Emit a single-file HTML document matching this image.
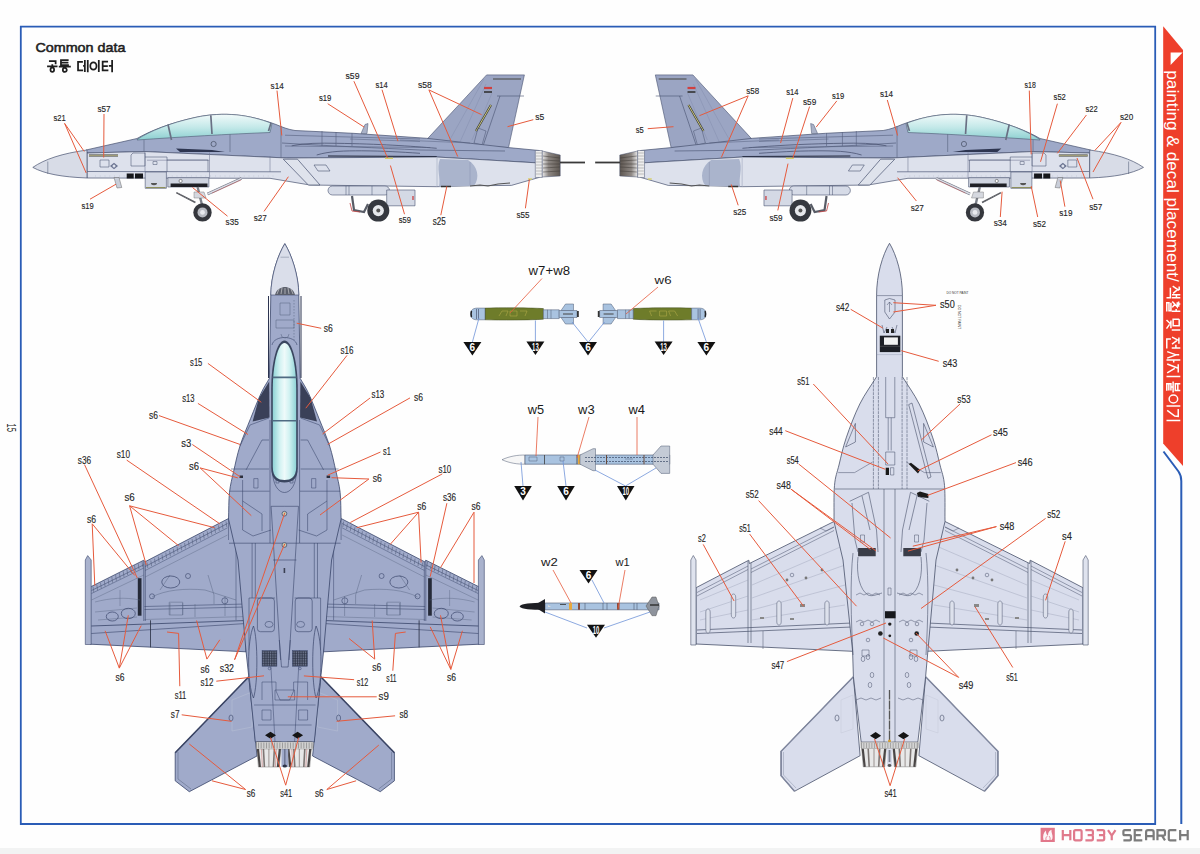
<!DOCTYPE html><html><head><meta charset="utf-8"><style>
html,body{margin:0;padding:0;background:#fff;width:1200px;height:854px;overflow:hidden}
svg{display:block;font-family:"Liberation Sans",sans-serif}
</style></head><body>
<svg width="1200" height="854" viewBox="0 0 1200 854">
<rect width="1200" height="854" fill="#fefefe"/>
<rect y="848" width="1200" height="6" fill="#f2f3f3"/>

<rect x="20.8" y="26.6" width="1134.4" height="197.4" fill="none"/>
<path d="M20.8,26.6 H1155.2 V824 H20.8 Z" fill="none" stroke="#2a5cb6" stroke-width="1.8"/>
<polygon points="1163.2,26.3 1183,50 1183,466 1163.2,443.5" fill="#ee3f2b"/>
<polygon points="1170.6,52.6 1182.6,52.6 1170.6,65" fill="#fff"/>
<path d="M1163.5,451.5 L1178.5,471.5 Q1181.3,475.5 1181.3,481 V824" fill="none" stroke="#2a5cb6" stroke-width="2"/>
<text transform="translate(1167.3,70.3) rotate(90)" font-size="17" fill="#fff" textLength="211.5" lengthAdjust="spacingAndGlyphs">painting &amp; decal placement/</text>
<text x="35.4" y="52.3" font-size="13.4" fill="#1e1e1e" stroke="#1e1e1e" stroke-width="0.55" textLength="90" lengthAdjust="spacingAndGlyphs">Common data</text>
<path d="M1.8,0.9 L8.2,0.9 L8.2,3.6 M5,3.6 L5,5.3 M0,5.3 L10,5.3 M3.25,8.2 A1.75,1.75 0 1 0 6.75,8.2 A1.75,1.75 0 1 0 3.25,8.2" transform="translate(47.1,60.1) scale(1.0399999999999998,1.1800000000000002)" fill="none" stroke="#1e1e1e" stroke-width="1.75" vector-effect="non-scaling-stroke" stroke-linecap="butt"/>
<path d="M8.2,0.1 L1.8,0.1 L1.8,4.3 L8.4,4.3 M1.8,2.2 L8,2.2 M5,4.3 L5,5.5 M0,5.5 L10,5.5 M3.35,8.3 A1.65,1.65 0 1 0 6.65,8.3 A1.65,1.65 0 1 0 3.35,8.3" transform="translate(58.8,60.1) scale(1.2,1.1800000000000002)" fill="none" stroke="#1e1e1e" stroke-width="1.75" vector-effect="non-scaling-stroke" stroke-linecap="butt"/>
<path d="M5,1.5 L0.5,1.5 L0.5,8.8 L5.2,8.8 M6.8,0 L6.8,10 M9.5,0 L9.5,10.3 M5.2,4.8 L6.8,4.8" transform="translate(77.5,60.1) scale(1.0799999999999996,1.1800000000000002)" fill="none" stroke="#1e1e1e" stroke-width="1.75" vector-effect="non-scaling-stroke" stroke-linecap="butt"/>
<path d="M0.2999999999999998,5 A3.1,3.1 0 1 0 6.5,5 A3.1,3.1 0 1 0 0.2999999999999998,5 M8.8,0 L8.8,10" transform="translate(90,60.1) scale(1.0,1.1800000000000002)" fill="none" stroke="#1e1e1e" stroke-width="1.75" vector-effect="non-scaling-stroke" stroke-linecap="butt"/>
<path d="M5.5,1.2 L0.6,1.2 L0.6,8.8 L5.8,8.8 M0.6,5 L5.3,5 M9.2,0 L9.2,10.3 M6.2,4.8 L9.2,4.8" transform="translate(102,60.1) scale(1.1,1.1800000000000002)" fill="none" stroke="#1e1e1e" stroke-width="1.75" vector-effect="non-scaling-stroke" stroke-linecap="butt"/>
<path d="M0.5,0.8 L3,0.8 M3,0.8 L3,1.5 L0.3,5.5 M3,2.2 L5.5,5.2 M6.5,0 L6.5,6 M8.8,0 L8.8,6.2 M6.5,2.8 L8.8,2.8 M1.5,7.2 L8.8,7.2 L8.8,10" transform="translate(1180.3,285.8) rotate(90) scale(1.3699999999999988,1.3800000000000001)" fill="none" stroke="#fff" stroke-width="1.5" vector-effect="non-scaling-stroke" stroke-linecap="butt"/>
<path d="M2.5,0 L2.5,1 M0.5,1.2 L5,1.2 M1,2.2 L5,2.2 L0.5,5.8 M2.8,4 L5.5,5.8 M8.8,0 L8.8,6.2 M6.8,3 L8.8,3 M1.5,6.8 L8.5,6.8 L8.5,8.2 L1.5,8.2 L1.5,9.8 L9,9.8" transform="translate(1180.3,301) rotate(90) scale(1.1600000000000024,1.3800000000000001)" fill="none" stroke="#fff" stroke-width="1.5" vector-effect="non-scaling-stroke" stroke-linecap="butt"/>
<path d="M0.6,0.8 L5.5,0.8 L5.5,5.2 L0.6,5.2 L0.6,0.8 M8.8,0 L8.8,6.2 M1.5,6.8 L7.5,6.8 M4.5,6.8 L1.2,10 M4.5,7.8 L7.8,10" transform="translate(1180.3,318.4) rotate(90) scale(1.3200000000000045,1.3800000000000001)" fill="none" stroke="#fff" stroke-width="1.5" vector-effect="non-scaling-stroke" stroke-linecap="butt"/>
<path d="M0.5,1 L5.5,1 M3,1 L0.3,6 M3,2.5 L5.8,6 M8.8,0 L8.8,6.2 M6.2,3.2 L8.8,3.2 M1.8,6.8 L1.8,9.8 L9.2,9.8" transform="translate(1180.3,336.8) rotate(90) scale(1.269999999999999,1.3800000000000001)" fill="none" stroke="#fff" stroke-width="1.5" vector-effect="non-scaling-stroke" stroke-linecap="butt"/>
<path d="M3,0.8 L3,3 L0,9.5 M3,3 L6,9.5 M7.8,0 L7.8,10 M7.8,4.8 L10,4.8" transform="translate(1180.3,351.6) rotate(90) scale(1.0899999999999976,1.3800000000000001)" fill="none" stroke="#fff" stroke-width="1.5" vector-effect="non-scaling-stroke" stroke-linecap="butt"/>
<path d="M0.5,1.5 L6,1.5 M3.2,1.5 L0.3,9.5 M3.2,4 L6.3,9.5 M8.8,0 L8.8,10" transform="translate(1180.3,363.5) rotate(90) scale(1.4899999999999978,1.3800000000000001)" fill="none" stroke="#fff" stroke-width="1.5" vector-effect="non-scaling-stroke" stroke-linecap="butt"/>
<path d="M2,0 L2,3.6 L8,3.6 L8,0 M2,1.8 L8,1.8 M0,5.2 L10,5.2 M5,5.2 L5,6.3 M8.2,6.8 L2,6.8 L2,9.8 L8.4,9.8 M2,8.3 L8,8.3" transform="translate(1180.3,381.6) rotate(90) scale(1.1,1.3800000000000001)" fill="none" stroke="#fff" stroke-width="1.5" vector-effect="non-scaling-stroke" stroke-linecap="butt"/>
<path d="M0.2999999999999998,5 A3.1,3.1 0 1 0 6.5,5 A3.1,3.1 0 1 0 0.2999999999999998,5 M8.8,0 L8.8,10" transform="translate(1180.3,394.7) rotate(90) scale(1.269999999999999,1.3800000000000001)" fill="none" stroke="#fff" stroke-width="1.5" vector-effect="non-scaling-stroke" stroke-linecap="butt"/>
<path d="M0.5,1.5 L5.8,1.5 L5.6,4 L1.5,9.5 M8.8,0 L8.8,10" transform="translate(1180.3,408.4) rotate(90) scale(1.3700000000000045,1.3800000000000001)" fill="none" stroke="#fff" stroke-width="1.5" vector-effect="non-scaling-stroke" stroke-linecap="butt"/>
<text transform="translate(7.2,423.5) rotate(90)" font-size="12" fill="#2a2a2a" textLength="8.4" lengthAdjust="spacingAndGlyphs">15</text>
<rect x="1040.6" y="827.8" width="14.2" height="14.2" fill="#e2788b"/>
<path d="M1043.5,840 C1042.5,836 1043.5,832.5 1046,830.5 C1045.8,833.5 1047,835 1048,835.5 C1047.8,832.5 1049.5,830.5 1051.5,829.8 C1051,832.5 1053,835 1052.5,838 C1052.2,839.5 1051.5,840 1051,840 Z" fill="#fff" opacity="0.92"/>
<path d="M1046,840 C1045.5,838 1046.5,836.5 1047.5,836 M1050,840 C1050.5,838 1049.5,836.5 1049,836" stroke="#e2788b" stroke-width="0.9" fill="none"/>
<path d="M0,0 V12 M10,0 V12 M0,6 H10" transform="translate(1062.80,830.1) scale(0.750,0.850)" fill="none" stroke="#e07a8c" stroke-width="2.2" vector-effect="non-scaling-stroke"/>
<path d="M1.8,0 H8.2 Q10,0 10,1.8 V10.2 Q10,12 8.2,12 H1.8 Q0,12 0,10.2 V1.8 Q0,0 1.8,0 Z" transform="translate(1074.10,830.1) scale(0.750,0.850)" fill="none" stroke="#e07a8c" stroke-width="2.2" vector-effect="non-scaling-stroke"/>
<path d="M0,0 H8.2 Q10,0 10,1.8 V4.2 Q10,6 8.2,6 H3 M8.2,6 Q10,6 10,7.8 V10.2 Q10,12 8.2,12 H0" transform="translate(1085.40,830.1) scale(0.750,0.850)" fill="none" stroke="#e07a8c" stroke-width="2.2" vector-effect="non-scaling-stroke"/>
<path d="M0,0 H8.2 Q10,0 10,1.8 V4.2 Q10,6 8.2,6 H3 M8.2,6 Q10,6 10,7.8 V10.2 Q10,12 8.2,12 H0" transform="translate(1096.70,830.1) scale(0.750,0.850)" fill="none" stroke="#e07a8c" stroke-width="2.2" vector-effect="non-scaling-stroke"/>
<path d="M0,0 L5,6.5 L10,0 M5,6.5 V12" transform="translate(1108.00,830.1) scale(0.750,0.850)" fill="none" stroke="#e07a8c" stroke-width="2.2" vector-effect="non-scaling-stroke"/>
<path d="M10,0 H1.8 Q0,0 0,1.8 V4.2 Q0,6 1.8,6 H8.2 Q10,6 10,7.8 V10.2 Q10,12 8.2,12 H0" transform="translate(1123.40,830.1) scale(0.755,0.850)" fill="none" stroke="#7c7c7c" stroke-width="2.2" vector-effect="non-scaling-stroke"/>
<path d="M10,0 H0 V12 H10 M0,6 H8" transform="translate(1134.75,830.1) scale(0.755,0.850)" fill="none" stroke="#7c7c7c" stroke-width="2.2" vector-effect="non-scaling-stroke"/>
<path d="M0,12 V2.5 Q0,0 2.5,0 H7.5 Q10,0 10,2.5 V12 M0,7 H10" transform="translate(1146.10,830.1) scale(0.755,0.850)" fill="none" stroke="#7c7c7c" stroke-width="2.2" vector-effect="non-scaling-stroke"/>
<path d="M0,12 V0 H8.2 Q10,0 10,1.8 V4.7 Q10,6.5 8.2,6.5 H0 M6,6.5 L10,12" transform="translate(1157.45,830.1) scale(0.755,0.850)" fill="none" stroke="#7c7c7c" stroke-width="2.2" vector-effect="non-scaling-stroke"/>
<path d="M10,0 H1.8 Q0,0 0,1.8 V10.2 Q0,12 1.8,12 H10" transform="translate(1168.80,830.1) scale(0.755,0.850)" fill="none" stroke="#7c7c7c" stroke-width="2.2" vector-effect="non-scaling-stroke"/>
<path d="M0,0 V12 M10,0 V12 M0,6 H10" transform="translate(1180.15,830.1) scale(0.755,0.850)" fill="none" stroke="#7c7c7c" stroke-width="2.2" vector-effect="non-scaling-stroke"/>
<defs><linearGradient id="cnp" x1="0" y1="0" x2="0" y2="1"><stop offset="0" stop-color="#f2fafa"/><stop offset="0.5" stop-color="#c4e9e9"/><stop offset="1" stop-color="#8ccfd0"/></linearGradient><linearGradient id="noz" x1="0" y1="0" x2="1" y2="0"><stop offset="0" stop-color="#e9e9ea"/><stop offset="0.35" stop-color="#8e8884"/><stop offset="1" stop-color="#5d5650"/></linearGradient></defs>
<g id="side">
<polygon points="423.9,142.6 486.6,74.9 524.4,74.9 508.5,147.6" fill="#9ba5c3" stroke="#46506e" stroke-width="0.6" />
<path d="M500,96 L483,146 M497,96 L524,96" fill="none" stroke="#46506e" stroke-width="0.6" />
<path d="M472,140 L492,93 M460,142 L486,84 M448,143 L484,79" fill="none" stroke="#7e89a8" stroke-width="0.4" />
<path d="M476,131 L491,105" fill="none" stroke="#3c3c30" stroke-width="2.2" />
<path d="M476,131 L491,105" fill="none" stroke="#d9d68a" stroke-width="0.9" />
<path d="M484,88 h8" fill="none" stroke="#d04040" stroke-width="2.2" />
<path d="M484,92 h8" fill="none" stroke="#333" stroke-width="1.6" />
<path d="M493,79 h28" fill="none" stroke="#555" stroke-width="1.2" />
<path d="M478,128 l8,3 l-4,14 l-8,-2 z" fill="none" stroke="#46506e" stroke-width="0.5" />
<path d="M86,150 L137,138.5 C150,131 170,123 195,117.5 C225,111 250,115 276,124.5 C282,127 288,129.5 295,130.5 L353,133.3 L426.7,138.3 L508.5,147.6 L539.3,150.5 L539.3,163 L436.7,157 L286.7,158 L144,151.5 L87,153 Z" fill="#9ea9c8" stroke="#46506e" stroke-width="0.7" />
<path d="M176,148.6 L212,150 L225,152 L180,152 Z" fill="#2d3550" stroke="none" stroke-width="1" />
<path d="M282,143 C330,146 380,148 420,150 L505,151" fill="none" stroke="#46506e" stroke-width="0.6" />
<path d="M291.7,145.8 C305,143 320,143 336.7,143.3 C380,144 410,146 436.7,148.3 M316.7,155 C330,151 345,150.8 361.7,150.8 C385,151 400,152 420,153.3" fill="none" stroke="#3f4866" stroke-width="0.7" />
<path d="M328,156 L436.7,156.5" fill="none" stroke="#1f2435" stroke-width="1.0" />
<path d="M400,140 L470,143 M350,139 L420,141.5" fill="none" stroke="#56607e" stroke-width="0.5" />
<path d="M285,135.2 L420,139 M322,131 V146 M336,132 V146 M352,133 V146 M285,146 L430,147.5" fill="none" stroke="#56607e" stroke-width="0.6" />
<path d="M144,140 L144,151 M230,124 L230,152 M281,126 L281,158" fill="none" stroke="#46506e" stroke-width="0.5" />
<path d="M87,153 L144,151.5 L286.7,158 L436.7,157 L539.3,163 L539.3,177.4 L511.4,185.4 L470,185.8 L436.7,186.7 L310,185 L270,178.3 L87,178 Z" fill="#dde1ec" stroke="#46506e" stroke-width="0.7" />
<path d="M440,159 C436,168 441,178 439,186.5 L474,185.8 C480,178 478,166 468,160 Z" fill="#aab4cc" stroke="none" stroke-width="1" />
<path d="M437,158 L437,186.5 M470,162 L470,185" fill="none" stroke="#7d88a6" stroke-width="0.4" />
<path d="M87,171.5 L281,171.8" fill="none" stroke="#6f7893" stroke-width="0.9" />
<path d="M147,160.2 H209.5 M209.5,152.5 V178 M145,152 V172 M270,156 V172" fill="none" stroke="#6f7893" stroke-width="0.55" />
<path d="M95,176 h180" fill="none" stroke="#9aa2b8" stroke-width="0.4" stroke-dasharray="0.8,4"/>
<path d="M133,153 h12 v13 h-14 v-11 z M100,160 h9 v7 h-9 z M145,157 h22 v15 M167,160 h41 v12" fill="none" stroke="#46506e" stroke-width="0.55" />
<path d="M153,161.5 h4 v3 h-4 z" fill="none" stroke="#46506e" stroke-width="0.5" />
<path d="M110,166 l4,-3.2 l4,3.2 l-4,3.2 z" fill="#6a7390" stroke="none" stroke-width="1" />
<circle cx="114" cy="166" r="1.5" fill="#dde1ec"/>
<path d="M89,155.5 h29" fill="none" stroke="#3a3a30" stroke-width="2" />
<path d="M89,155.5 h29" fill="none" stroke="#b7b48a" stroke-width="0.8" />
<polygon points="283.3,159.2 297.5,159.2 320.0,185.0 308.3,185.0" fill="#dfe3ec" stroke="#46506e" stroke-width="0.7" />
<path d="M314,165 l12,0 l4,6 l-12,0 z" fill="none" stroke="#46506e" stroke-width="0.6" />
<path d="M32.8,167.4 C45,159 62,153.5 87,150 L87,178 C62,177 45,174 32.8,167.4 Z" fill="#d8dce7" stroke="#46506e" stroke-width="0.7" />
<path d="M47.8,161.5 L47.8,174" fill="none" stroke="#46506e" stroke-width="0.5" />
<path d="M137,139.5 C150,131 170,123 195,117.5 C225,111 250,115 272,123.5 L270,132.5 C230,134 180,137 137,140 Z" fill="url(#cnp)" stroke="#4c5a72" stroke-width="0.6" />
<path d="M168,124.5 L171.5,140 M210.8,115.2 L212,134 M271,123 L268.5,131" fill="none" stroke="#6a7084" stroke-width="1.7" />
<circle cx="213.6" cy="144" r="2.6" fill="none" stroke="#444c60" stroke-width="0.7"/>
<path d="M145.2,172 h21.2 v16.3 h-21.2 z" fill="#d3d8e4" stroke="#46506e" stroke-width="0.6" />
<path d="M146,187.6 h19.6" fill="none" stroke="#8a8a50" stroke-width="1" />
<path d="M151,183 a3,2.2 0 0 0 6,0" fill="#555" stroke="none" stroke-width="1" />
<path d="M167.8,177.7 h41.1 v9.3 h-41.1 z" fill="#cfd4e0" stroke="#46506e" stroke-width="0.6" />
<path d="M170.6,183.4 h36.9 v3.6 h-36.9 z" fill="#1f2026" stroke="none" stroke-width="1" />
<circle cx="180.6" cy="181" r="1.6" fill="#fff" stroke="#333" stroke-width="0.5"/>
<path d="M126.7,173.5 h7 v4.9 h-7 z M135,173.5 h8 v4.9 h-8 z" fill="#16171b" stroke="none" stroke-width="1" />
<path d="M114,177.5 L117,188 L121.8,187.5 L119,177.5 Z" fill="#c9ced9" stroke="#666" stroke-width="0.5" />
<path d="M176.3,192.6 L195.4,202.5" fill="none" stroke="#4f5158" stroke-width="1.6" />
<path d="M176.3,192.6 L195.4,202.5" fill="none" stroke="#aaa" stroke-width="0.5" stroke-dasharray="1,1"/>
<path d="M197.6,187 L202.5,207" fill="none" stroke="#7c8089" stroke-width="2.4" />
<path d="M194,192 h10 l2,6 h-12 z" fill="#d5d8df" stroke="#666" stroke-width="0.4" />
<path d="M207.5,194 L241.5,178.4" fill="none" stroke="#6d7180" stroke-width="2.6" />
<path d="M207.5,194 L241.5,178.4" fill="none" stroke="#d8dbe3" stroke-width="1.5" />
<path d="M212,193.2 L241,180" fill="none" stroke="#c05050" stroke-width="0.5" />
<circle cx="202.5" cy="212.4" r="9.2" fill="#35373d"/><circle cx="202.5" cy="212.4" r="5" fill="#b9bcc3"/><circle cx="202.5" cy="212.4" r="2.4" fill="#e9eaee"/>
<path d="M332.5,186 h52.5 a4.5,4.5 0 0 1 0,9 h-52.5 a4.5,4.5 0 0 1 0,-9 z" fill="#d6dbe7" stroke="#46506e" stroke-width="0.6" />
<path d="M346,186 v9 M349,186 v9 M372,186 v9" fill="none" stroke="#46506e" stroke-width="0.5" />
<path d="M386.7,190 h28.3 v15.8 h-28.3 z" fill="#d4d9e5" stroke="#46506e" stroke-width="0.6" />
<path d="M413,196 v4" fill="none" stroke="#c33" stroke-width="1.2" />
<path d="M352,196 l2,14 l10,2 l4,-8" fill="none" stroke="#585c66" stroke-width="2.2" />
<path d="M350,203 l2,8 l8,1" fill="none" stroke="#c04040" stroke-width="0.8" />
<circle cx="378.3" cy="210.6" r="11" fill="#35383f"/><circle cx="378.3" cy="210.6" r="5.6" fill="#e6e8ec"/><circle cx="378.3" cy="210.6" r="2" fill="#555"/>
<path d="M385,158.3 h8" fill="none" stroke="#d6cf6a" stroke-width="1.4" />
<path d="M361,133.5 l4,-9 l3,-1 l-1,10 z" fill="#aab2c8" stroke="#46506e" stroke-width="0.5" />
<path d="M535.3,150.5 h7 v27 h-7 z" fill="#eeeeee" stroke="#46506e" stroke-width="0.5" />
<path d="M536,153 h6 M536,156 h6 M536,159 h6 M536,162 h6 M536,165 h6 M536,168 h6 M536,171 h6 M536,174 h6" fill="none" stroke="#888" stroke-width="0.5" />
<path d="M542.3,151 L560.2,155 L560.2,176 L542.3,177 Z" fill="url(#noz)" stroke="#46506e" stroke-width="0.5" />
<path d="M543,156 L560,158 M543,160 L560,161 M543,164 L560,164 M543,168 L560,167 M543,172 L560,171" fill="none" stroke="#3f3a36" stroke-width="0.5" />
<path d="M560,162.5 H585" fill="none" stroke="#3a3a3a" stroke-width="1.8" />
<path d="M470,186 l10,-1 l8,1 l10,-2 l12,-1" fill="none" stroke="#555" stroke-width="1.2" />
<path d="M528,179 h4" fill="none" stroke="#d6cf6a" stroke-width="1.4" />
<path d="M441,186.5 h10" fill="none" stroke="#333" stroke-width="1.5" />
</g>
<use href="#side" transform="matrix(-0.993,0,0,1,1176.07,0)"/>
<defs><linearGradient id="cnpT" x1="0" y1="0" x2="1" y2="0"><stop offset="0" stop-color="#8fd3d6"/><stop offset="0.3" stop-color="#d2f2f2"/><stop offset="0.5" stop-color="#eefafa"/><stop offset="0.7" stop-color="#d2f2f2"/><stop offset="1" stop-color="#8fd3d6"/></linearGradient></defs>
<g id="topHalf">
<polygon points="238.0,514.0 227.0,519.3 145.0,561.8 143.8,560.2 91.3,586.5 90.4,587.0 90.4,644.2 246.0,651.8 246.0,514.0" fill="#a0aaca" stroke="#39456a" stroke-width="0.8" />
<path d="M85.3,644.5 V560 L87.7,555.6 L91.2,560 V644.5 Z" fill="#a9b2cd" stroke="#39456a" stroke-width="0.6" />
<path d="M91.5,590.5 L143.8,564.8 M145.2,566.5 L227.5,523.5" fill="none" stroke="#39456a" stroke-width="0.55" />
<path d="M91.5,593.5 L143.8,568 M145.2,570.5 L227.5,527.8" fill="none" stroke="#39456a" stroke-width="0.45" />
<path d="M93.0,586.6 L93.8,592.3 M96.8,584.7 L97.6,590.4 M100.5,582.8 L101.3,588.5 M104.3,580.8 L105.1,586.5 M108.1,578.9 L108.9,584.6 M111.8,577.0 L112.6,582.7 M115.6,575.1 L116.4,580.8 M119.4,573.1 L120.2,578.8 M123.2,571.2 L124.0,576.9 M126.9,569.3 L127.7,575.0 M130.7,567.4 L131.5,573.1 M134.5,565.4 L135.3,571.1 M138.2,563.5 L139.0,569.2 M142.0,561.6 L142.8,567.3 M147.0,562.5 L147.8,568.0 M150.8,560.5 L151.6,566.0 M154.5,558.6 L155.3,564.1 M158.3,556.6 L159.1,562.1 M162.0,554.7 L162.8,560.2 M165.8,552.7 L166.6,558.2 M169.6,550.8 L170.4,556.3 M173.3,548.8 L174.1,554.3 M177.1,546.9 L177.9,552.4 M180.9,544.9 L181.7,550.4 M184.6,543.0 L185.4,548.5 M188.4,541.0 L189.2,546.5 M192.1,539.1 L192.9,544.6 M195.9,537.1 L196.7,542.6 M199.7,535.2 L200.5,540.7 M203.4,533.2 L204.2,538.7 M207.2,531.3 L208.0,536.8 M211.0,529.3 L211.8,534.8 M214.7,527.4 L215.5,532.9 M218.5,525.4 L219.3,530.9 M222.2,523.5 L223.0,529.0 M226.0,521.5 L226.8,527.0" fill="none" stroke="#4f5a78" stroke-width="0.55" />
<path d="M145.2,577 L227.5,535 M91.5,600 L143.8,575" fill="none" stroke="#56627f" stroke-width="0.4" />
<path d="M91.3,626 L246,620.5" fill="none" stroke="#39456a" stroke-width="0.8" />
<path d="M91.3,633.5 L246,623.5" fill="none" stroke="#39456a" stroke-width="0.6" />
<path d="M144.5,606.5 L246,604 M144.5,609.5 L246,607" fill="none" stroke="#39456a" stroke-width="0.55" />
<path d="M144.5,619.5 L246,616.5" fill="none" stroke="#56627f" stroke-width="0.4" />
<path d="M143.8,561 V621 M145.3,562 V621" fill="none" stroke="#39456a" stroke-width="0.6" />
<path d="M150.5,620.3 V647.3" fill="none" stroke="#262c40" stroke-width="0.8" />
<path d="M236,520 V620 M228.5,519 V540" fill="none" stroke="#39456a" stroke-width="0.5" />
<path d="M137.8,578.2 h3.7 v37.5 h-3.7 z" fill="#252a38" stroke="none" stroke-width="1" />
<path d="M152,597 C165,590 185,588 205,590 L236,600 M160,590 L170,575 M208,575 L214,595 L214,604 M170,603 V615 M182.7,603 V615 M169.2,602.2 h13.5 v12.8 h-13.5 z M195,604 V617 M225,596 V616" fill="none" stroke="#56627f" stroke-width="0.45" />
<path d="M95,602 C110,598 125,597 140,600 M95,612 L137,608 M120,590 V606 M98,620 L137,617" fill="none" stroke="#56627f" stroke-width="0.4" />
<path d="M161.75,582 a9,6 0 1 0 18,0 a9,6 0 1 0 -18,0 z" fill="none" stroke="#39456a" stroke-width="0.7" />
<path d="M106.3,616.5 a6,4.5 0 1 0 12,0 a6,4.5 0 1 0 -12,0 z M121.3,613.5 a7,5.2 0 1 0 14,0 a7,5.2 0 1 0 -14,0 z" fill="none" stroke="#39456a" stroke-width="0.7" />
<circle cx="188" cy="576" r="2.5" fill="none" stroke="#39456a" stroke-width="0.6"/><circle cx="152" cy="596.3" r="2.5" fill="none" stroke="#39456a" stroke-width="0.6"/><circle cx="224.8" cy="600.8" r="3" fill="none" stroke="#39456a" stroke-width="0.6"/>
<polygon points="248.8,676.8 175.2,752.7 175.2,780.8 189.3,791.7 257.0,756.0" fill="#a0aaca" stroke="#39456a" stroke-width="0.8" />
<path d="M178,752 L178,779 L191,789" fill="none" stroke="#56627f" stroke-width="0.5" />
<path d="M248.8,676.8 L175.2,752.7" fill="none" stroke="#3a4464" stroke-width="1.6" />
<path d="M232,700 l20,-8 l0,35 l-20,4 z" fill="none" stroke="#b9c0d4" stroke-width="0.5" />
<path d="M229,718 a2,3 0 1 0 4,0 a2,3 0 1 0 -4,0 z" fill="none" stroke="#39456a" stroke-width="0.6" />
</g>
<use href="#topHalf" transform="matrix(-1,0,0,1,569.6,0)"/>
<path d="M284.8,243.7 C278,255 271,275 270.8,295 L269.4,378.4 C266.63,383.33 264.23,386.52 261.10,393.20 C257.97,399.88 254.12,409.72 250.60,418.50 C247.08,427.28 242.82,437.12 240.00,445.90 C237.18,454.68 235.45,463.47 233.70,471.20 C231.95,478.93 230.37,484.33 229.50,492.30 C228.63,500.27 228.83,510.10 228.50,519.00 L238,560 L246,651 L248.8,676.8 L255.3,742 L314.3,742 L320.8,676.8 L323.6,651 L331.6,560 L341.1,519 C340.77,510.10 340.97,500.27 340.10,492.30 C339.23,484.33 337.65,478.93 335.90,471.20 C334.15,463.47 332.42,454.68 329.60,445.90 C326.78,437.12 322.52,427.28 319.00,418.50 C315.48,409.72 311.63,399.88 308.50,393.20 C305.37,386.52 302.97,383.33 300.20,378.40 L298.8,295 C298.6,275 291.6,255 284.8,243.7 Z" fill="#a0aaca" stroke="#39456a" stroke-width="0.8" />
<path d="M284.8,243.7 C278,255 271,275 270.8,295 L298.8,295 C298.6,275 291.6,255 284.8,243.7 Z" fill="#dadeea" stroke="#39456a" stroke-width="0.6" />
<path d="M280.5,257.2 H289" fill="none" stroke="#56627f" stroke-width="0.4" />
<path d="M275,295 C276,289 282,287 285,287 C288,287 294,289 295,295 Z" fill="#5b5f6b" stroke="none" stroke-width="1" />
<path d="M277,294 l2,-5 M281,294 l1,-6 M285,294 v-6 M289,294 l-1,-6 M293,294 l-2,-5" fill="none" stroke="#ddd" stroke-width="0.6" />
<polygon points="269.2,381.6 259.0,398.0 252.6,421.5 269.5,417.5" fill="#3a4058" stroke="none" stroke-width="1" />
<polygon points="300.4,381.6 310.6,398.0 317.0,421.5 300.1,417.5" fill="#3a4058" stroke="none" stroke-width="1" />
<path d="M271.2,390 C271.2,362 277,340.5 284.5,340.5 C292,340.5 297.8,362 297.8,390 L297.8,468 C297.8,479 292,482.5 284.5,482.5 C277,482.5 271.2,479 271.2,468 Z" fill="#3a4660" stroke="none" stroke-width="1" />
<path d="M272.8,390 C272.8,364 278,343 284.5,343 C291,343 296.2,364 296.2,390 L296.2,467 C296.2,477 291,480 284.5,480 C278,480 272.8,477 272.8,467 Z" fill="url(#cnpT)" stroke="none" stroke-width="1" />
<path d="M272,345 C274,335 295,335 297,345" fill="none" stroke="#39456a" stroke-width="0.6" />
<path d="M272.5,470 C272.5,500 296.5,500 296.5,470" fill="none" stroke="#39456a" stroke-width="0.6" />
<path d="M276,480 h3 v3 h-3 z M290,480 h3 v3 h-3 z" fill="none" stroke="#39456a" stroke-width="0.5" />
<path d="M272.5,377.4 H296.5 M272.5,420.8 H296.5" fill="none" stroke="#4f6a82" stroke-width="1.6" />
<path d="M268.5,296 V378 M301,296 V378" fill="none" stroke="#2c3450" stroke-width="1" />
<path d="M280,303 h10 v12 h-10 z M276,320 h18 v8 h-18 z M281,334 a4,4 0 1 0 8,0" fill="none" stroke="#56627f" stroke-width="0.5" />
<path d="M294,300 v40" fill="none" stroke="#56627f" stroke-width="0.5" stroke-dasharray="1.5,1.5"/>
<g id="topDet">
<path d="M270,420 V543" fill="none" stroke="#39456a" stroke-width="0.6" />
<path d="M240,446 L250,425 L269,418 M246,470 L262,440 L269,440 M231,469 H269 M229.5,491.2 H269.6" fill="none" stroke="#39456a" stroke-width="0.55" />
<path d="M242.6,480 V530 M242.6,501 L262,514 V531 M242.6,530 L253,536 L271,530" fill="none" stroke="#39456a" stroke-width="0.55" />
<path d="M253.8,478.6 h4.2 v9.4 h-4.2 z" fill="none" stroke="#39456a" stroke-width="0.5" />
<path d="M239.5,475.5 h3.5 v2.5 h-3.5 z" fill="#2a2f3e" stroke="none" stroke-width="1" />
<path d="M271.1,506.3 L280.6,660 M271.1,506.3 H284.8 M273.2,560 H284.8 M229,543.2 H284.8" fill="none" stroke="#39456a" stroke-width="0.6" />
<path d="M252.1,543 V598 M255.3,543 V598 M249,598 H275 M249,598 V650" fill="none" stroke="#39456a" stroke-width="0.55" />
<path d="M257.4,601 q0,-3 3,-3 h11 q3,0 3,3 v27.7 q0,3 -3,3 h-11 q-3,0 -3,-3 z" fill="none" stroke="#39456a" stroke-width="0.6" />
<path d="M265,624.4 a4,3 0 1 0 8,0 a4,3 0 1 0 -8,0 z" fill="none" stroke="#39456a" stroke-width="0.55" />
<path d="M253.5,626 C247,640 247,684 253.5,698 C258,684 258,640 253.5,626 Z" fill="#a0aaca" stroke="#39456a" stroke-width="0.7" />
<path d="M262,682 h14 v9 M262,682 V700 M276,691 L280,700 H284.8" fill="none" stroke="#39456a" stroke-width="0.5" />
<path d="M254,705 H284.8 M258,725 H284.8 M262,710 h9 v10 h-9 z" fill="none" stroke="#39456a" stroke-width="0.5" />
<path d="M279.3,640 L281.5,667 H284.8" fill="none" stroke="#39456a" stroke-width="0.6" />
<path d="M270,650 L275,742" fill="none" stroke="#39456a" stroke-width="0.5" />
</g>
<use href="#topDet" transform="matrix(-1,0,0,1,569.6,0)"/>
<path d="M275,690 h19.6 v10 h-19.6 z" fill="none" stroke="#39456a" stroke-width="0.5" />
<circle cx="284.4" cy="513.7" r="2.4" fill="#c9cdb0" stroke="#39456a" stroke-width="0.7"/><circle cx="284.4" cy="545" r="2.4" fill="#c9cdb0" stroke="#39456a" stroke-width="0.7"/>
<path d="M283.6,568 h1.6 v5 h-1.6 z" fill="#3a3f52" stroke="none" stroke-width="1" />
<rect x="262.1" y="650.7" width="14.8" height="15.5" fill="#3e4559" stroke="#39456a" stroke-width="0.5"/>
<path d="M263.7,651.5 v14 M266.0,651.5 v14 M268.3,651.5 v14 M270.6,651.5 v14 M272.9,651.5 v14 M275.2,651.5 v14" fill="none" stroke="#8f98b2" stroke-width="0.6" />
<path d="M262.1,653.5 h14.8 M262.1,656.0 h14.8 M262.1,658.5 h14.8 M262.1,661.0 h14.8 M262.1,663.5 h14.8" fill="none" stroke="#2b3142" stroke-width="0.5" />
<circle cx="269.5" cy="668.5" r="1.3" fill="none" stroke="#39456a" stroke-width="0.5"/>
<rect x="292.5" y="650.7" width="14.8" height="15.5" fill="#3e4559" stroke="#39456a" stroke-width="0.5"/>
<path d="M294.1,651.5 v14 M296.4,651.5 v14 M298.7,651.5 v14 M301.0,651.5 v14 M303.3,651.5 v14 M305.6,651.5 v14" fill="none" stroke="#8f98b2" stroke-width="0.6" />
<path d="M292.5,653.5 h14.8 M292.5,656.0 h14.8 M292.5,658.5 h14.8 M292.5,661.0 h14.8 M292.5,663.5 h14.8" fill="none" stroke="#2b3142" stroke-width="0.5" />
<circle cx="299.9" cy="668.5" r="1.3" fill="none" stroke="#39456a" stroke-width="0.5"/>
<path d="M265,735.3 l5.5,-3.5 l5.5,3.5 l-5.5,3.5 z M292.1,735.3 l5.5,-3.5 l5.5,3.5 l-5.5,3.5 z" fill="#151515" stroke="none" stroke-width="1" />
<path d="M256.4,742 H281.4 L279.4,767 H258.4 Z" fill="#e8e8e8" stroke="#555" stroke-width="0.4" />
<path d="M256.4,742 H281.4 V748 H256.4 Z" fill="#f4f4f4" stroke="#555" stroke-width="0.3" />
<path d="M257.3,742.5 v5 M258.9,742.5 v5 M260.5,742.5 v5 M262.1,742.5 v5 M263.7,742.5 v5 M265.3,742.5 v5 M266.9,742.5 v5 M268.5,742.5 v5 M270.1,742.5 v5 M271.7,742.5 v5 M273.3,742.5 v5 M274.9,742.5 v5 M276.5,742.5 v5 M278.1,742.5 v5 M279.7,742.5 v5" fill="none" stroke="#555" stroke-width="0.55" />
<path d="M257.9,748.5 L259.9,767 M279.9,748.5 L277.9,767" fill="none" stroke="#4a4646" stroke-width="2.2" />
<path d="M263.4,748.5 L264.4,767 M274.4,748.5 L273.4,767" fill="none" stroke="#7d7674" stroke-width="1.6" />
<path d="M268.9,748.5 V767" fill="none" stroke="#9a9290" stroke-width="1.0" />
<path d="M261.4,749 L262.4,767 M276.4,749 L275.4,767" fill="none" stroke="#c46a6a" stroke-width="0.5" />
<path d="M286.8,742 H311.8 L309.8,767 H288.8 Z" fill="#e8e8e8" stroke="#555" stroke-width="0.4" />
<path d="M286.8,742 H311.8 V748 H286.8 Z" fill="#f4f4f4" stroke="#555" stroke-width="0.3" />
<path d="M287.7,742.5 v5 M289.3,742.5 v5 M290.9,742.5 v5 M292.5,742.5 v5 M294.1,742.5 v5 M295.7,742.5 v5 M297.3,742.5 v5 M298.9,742.5 v5 M300.5,742.5 v5 M302.1,742.5 v5 M303.7,742.5 v5 M305.3,742.5 v5 M306.9,742.5 v5 M308.5,742.5 v5 M310.1,742.5 v5" fill="none" stroke="#555" stroke-width="0.55" />
<path d="M288.3,748.5 L290.3,767 M310.3,748.5 L308.3,767" fill="none" stroke="#4a4646" stroke-width="2.2" />
<path d="M293.8,748.5 L294.8,767 M304.8,748.5 L303.8,767" fill="none" stroke="#7d7674" stroke-width="1.6" />
<path d="M299.3,748.5 V767" fill="none" stroke="#9a9290" stroke-width="1.0" />
<path d="M291.8,749 L292.8,767 M306.8,749 L305.8,767" fill="none" stroke="#c46a6a" stroke-width="0.5" />
<path d="M281.4,742 h6.8 v25 h-6.8 z" fill="#a0aaca" stroke="none" stroke-width="1" />
<path d="M284.1,748 h1.4 v18 h-1.4 z" fill="#6a7390" stroke="none" stroke-width="1" />
<ellipse cx="284.8" cy="766" rx="2.2" ry="1.6" fill="#2d3346"/>
<path d="M256.4,742 H313.2 V749 H256.4 Z" fill="#f2f2f2" stroke="#555" stroke-width="0.3" />
<path d="M256.9,742.5 v6 M258.5,742.5 v6 M260.1,742.5 v6 M261.7,742.5 v6 M263.3,742.5 v6 M264.9,742.5 v6 M266.5,742.5 v6 M268.1,742.5 v6 M269.7,742.5 v6 M271.3,742.5 v6 M272.9,742.5 v6 M274.5,742.5 v6 M276.1,742.5 v6 M277.7,742.5 v6 M279.3,742.5 v6 M280.9,742.5 v6 M282.5,742.5 v6 M284.1,742.5 v6 M285.7,742.5 v6 M287.3,742.5 v6 M288.9,742.5 v6 M290.5,742.5 v6 M292.1,742.5 v6 M293.7,742.5 v6 M295.3,742.5 v6 M296.9,742.5 v6 M298.5,742.5 v6 M300.1,742.5 v6 M301.7,742.5 v6 M303.3,742.5 v6 M304.9,742.5 v6 M306.5,742.5 v6 M308.1,742.5 v6 M309.7,742.5 v6 M311.3,742.5 v6 M312.9,742.5 v6" fill="none" stroke="#555" stroke-width="0.55" />
<g id="botHalf">
<polygon points="845.0,515.0 834.0,521.5 749.4,563.5 748.8,560.2 696.8,587.3 696.0,588.0 696.0,644.0 852.6,651.3 852.6,515.0" fill="#d9ddec" stroke="#48506a" stroke-width="0.8" />
<path d="M690.8,645 V560 L693.3,555.5 L696,560 V645 Z" fill="#dfe3ee" stroke="#48506a" stroke-width="0.6" />
<path d="M697,592.5 L748,566 M751,569 L834,527 M697,596 L748,569.5 M751,572.5 L834,530.5" fill="none" stroke="#48506a" stroke-width="0.5" />
<path d="M834,510 h10.8 v31.8 M820,528 l6,3 l8,-4" fill="none" stroke="#48506a" stroke-width="0.5" />
<path d="M697,630 L852,623 M697,633.5 L852,627" fill="none" stroke="#48506a" stroke-width="0.7" />
<path d="M748,561 V643 M751,563 V643" fill="none" stroke="#48506a" stroke-width="0.6" />
<path d="M763,631 V649" fill="none" stroke="#48506a" stroke-width="0.5" />
<path d="M700,600 L748,580 M700,612 L748,596 M700,620 L748,610 M752,585 L845,545 M752,598 L845,565 M752,610 L845,585 M752,620 L845,605" fill="none" stroke="#8d95ab" stroke-width="0.35" />
<path d="M731.3,597 C731.3,593 735.7,593 735.7,597 L735.7,615 C735.7,619 731.3,619 731.3,615 Z" fill="#dde1ec" stroke="#48506a" stroke-width="0.5" />
<path d="M705.8,612 C705.8,608 710.2,608 710.2,612 L710.2,630 C710.2,634 705.8,634 705.8,630 Z" fill="#dde1ec" stroke="#48506a" stroke-width="0.5" />
<path d="M776.8,604 C776.8,600 781.2,600 781.2,604 L781.2,622 C781.2,626 776.8,626 776.8,622 Z" fill="#dde1ec" stroke="#48506a" stroke-width="0.5" />
<path d="M824.8,604 C824.8,600 829.2,600 829.2,604 L829.2,622 C829.2,626 824.8,626 824.8,622 Z" fill="#dde1ec" stroke="#48506a" stroke-width="0.5" />
<circle cx="787" cy="580" r="1.4" fill="#777"/><circle cx="806" cy="578" r="1.4" fill="#777"/><circle cx="822" cy="570" r="1.4" fill="#777"/><circle cx="792" cy="575" r="1.8" fill="none" stroke="#48506a" stroke-width="0.5"/>
<path d="M800,604 h5 v3 h-5 z M760,617 h4 v2 h-4 z M790,618 h4 v2 h-4 z" fill="#888" stroke="none" stroke-width="1" />
<polygon points="853.4,676.7 781.1,751.2 781.1,775.7 794.5,791.3 860.1,755.7" fill="#d9ddec" stroke="#48506a" stroke-width="0.8" />
<path d="M783.5,752 V775 L796,788" fill="none" stroke="#8d95ab" stroke-width="0.5" />
<path d="M853.4,676.7 L781.1,751.2 V775.7 L794.5,791.3" fill="none" stroke="#80879e" stroke-width="1.5" />
<path d="M841,700 l12,-5 v34 l-12,4 z" fill="none" stroke="#c4c9d8" stroke-width="0.5" />
<path d="M835,718 a2,3 0 1 0 4,0 a2,3 0 1 0 -4,0 z" fill="none" stroke="#48506a" stroke-width="0.6" />
</g>
<use href="#botHalf" transform="matrix(-1,0,0,1,1779.0,0)"/>
<path d="M889.5,243.3 C882.5,255 876.5,275 876.6,295.6 L876.6,376.7 C871.00,385.80 864.87,393.80 859.80,404.00 C854.73,414.20 849.67,427.73 846.20,437.90 C842.73,448.07 840.95,457.08 839.00,465.00 C837.05,472.92 835.33,475.98 834.50,485.40 C833.67,494.82 834.17,509.47 834.00,521.50 L843,560 L852.6,651 L853.4,676.7 L861.2,742.3 L917.8,742.3 L925.6,676.7 L936,560 L945,521.5 C944.83,509.47 945.33,494.82 944.50,485.40 C943.67,475.98 941.95,472.92 940.00,465.00 C938.05,457.08 936.27,448.07 932.80,437.90 C929.33,427.73 924.27,414.20 919.20,404.00 C914.13,393.80 908.00,385.80 902.40,376.70 L902.4,295.6 C902.5,275 896.5,255 889.5,243.3 Z" fill="#d9ddec" stroke="#48506a" stroke-width="0.8" />
<path d="M876.6,295.6 H902.4" fill="none" stroke="#48506a" stroke-width="0.5" />
<path d="M879.8,335.7 h20.5 v16.4 h-20.5 z" fill="#1d1f26" stroke="none" stroke-width="1" />
<path d="M884,337.4 h13.9 v7.4 h-13.9 z" fill="#f2f2f2" stroke="none" stroke-width="1" />
<path d="M880,346.3 h20" fill="none" stroke="#666" stroke-width="0.5" />
<path d="M884.8,300 L889.5,298.5 L895,300 L895,312 L889.5,319 L884.8,312 Z" fill="none" stroke="#48506a" stroke-width="0.6" />
<path d="M887,305 l2.5,-3 l2.5,3 M889.5,302 v10" fill="none" stroke="#48506a" stroke-width="0.5" />
<path d="M882,325 l2,8 l3,-6 M897,325 l-2,8 l-3,-6" fill="none" stroke="#48506a" stroke-width="0.6" />
<path d="M886,329 h3 v4 h-3 z M891,329 h3 v4 h-3 z" fill="#222" stroke="none" stroke-width="1" />
<path d="M876.6,354.6 H902.4" fill="none" stroke="#8d95ab" stroke-width="0.4" />
<path d="M873.4,377 V489 M878.4,377 V489 M902.1,377 V489 M907,377 V489" fill="none" stroke="#48506a" stroke-width="0.55" stroke-dasharray="3,0.8"/>
<path d="M885.7,377 V417.7 H894.8 V377 M888.2,417.7 V450.5 M891.2,417.7 V450.5 M885.7,452 h9.1 v13 h-9.1 z" fill="none" stroke="#48506a" stroke-width="0.55" />
<path d="M884,489 V742 M895,489 V742" fill="none" stroke="#48506a" stroke-width="0.6" />
<path d="M835,489 H944" fill="none" stroke="#48506a" stroke-width="0.6" />
<path d="M845.6,447 L855.4,423.4 L855.4,442 Z M933.4,447 L923.6,423.4 L923.6,442 Z" fill="none" stroke="#48506a" stroke-width="0.6" />
<path d="M838.2,472.6 H854.6 L872.6,462 M940.8,472.6 H924.4 L906.4,462" fill="none" stroke="#48506a" stroke-width="0.5" />
<path d="M908.7,404.6 L912,403 L931,477 L928,478.4 Z" fill="none" stroke="#48506a" stroke-width="0.6" />
<path d="M885.7,467.7 h3.3 v7.3 h-3.3 z" fill="#1a1a1a" stroke="none" stroke-width="1" />
<path d="M890.5,467.7 h3.3 v7.3 h-3.3 z" fill="none" stroke="#48506a" stroke-width="0.5" />
<path d="M908.7,464 L911,462.8 L920.2,470 L918,473.4 Z" fill="#1a1a1a" stroke="none" stroke-width="1" />
<path d="M916.9,493 L920,491.5 L928.4,494 L928.4,498 L918,497 Z" fill="#1a1a1a" stroke="none" stroke-width="1" />
<path d="M849.7,501.3 L868.5,492.3 L876.5,530 L878,552 M852,503 L855,540 L858,552 M862,496 L870,530" fill="none" stroke="#48506a" stroke-width="0.6" />
<path d="M929.3,501.3 L910.5,492.3 L902.5,530 L901,552 M927,503 L924,540 L921,552 M917,496 L909,530" fill="none" stroke="#48506a" stroke-width="0.6" />
<path d="M860.5,535 h4 v7 h-4 z M914.5,535 h4 v7 h-4 z" fill="none" stroke="#48506a" stroke-width="0.5" />
<path d="M858.1,548 h17.6 v8.2 h-17.6 z M903.3,548 h17.6 v8.2 h-17.6 z" fill="#3a3d48" stroke="none" stroke-width="1" />
<path d="M858,557 C856,575 860,590 868,595 C872,597 878,594 882,593 M921,557 C923,575 919,590 911,595 C907,597 901,594 897,593" fill="none" stroke="#48506a" stroke-width="0.6" />
<path d="M853,553 C850,580 851,620 853,655 M926,553 C929,580 928,620 926,655" fill="none" stroke="#48506a" stroke-width="0.6" />
<path d="M856,595 l4,-2 l4,2 l4,-2 l4,2 l4,-2 l4,2 M923,595 l-4,-2 l-4,2 l-4,-2 l-4,2 l-4,-2 l-4,2" fill="none" stroke="#48506a" stroke-width="0.5" />
<path d="M856,622 l4,-2 l4,2 l4,-2 l4,2 l4,-2 l4,2 M923,622 l-4,-2 l-4,2 l-4,-2 l-4,2 l-4,-2 l-4,2" fill="none" stroke="#48506a" stroke-width="0.5" />
<path d="M856,700 l5,-2 l5,2 l5,-2 l5,2 l5,-2 M923,700 l-5,-2 l-5,2 l-5,-2 l-5,2 l-5,-2" fill="none" stroke="#48506a" stroke-width="0.5" />
<path d="M888,588 h3 v7 h-3 z" fill="none" stroke="#48506a" stroke-width="0.5" />
<path d="M885,611.2 h10.6 v7.1 h-10.6 z" fill="#17181c" stroke="none" stroke-width="1" />
<circle cx="880.4" cy="633.5" r="2.3" fill="#222"/><circle cx="916.7" cy="633.5" r="2.3" fill="#222"/><circle cx="889.8" cy="624.1" r="1.7" fill="#222"/><circle cx="889.8" cy="635.8" r="1.4" fill="#222"/>
<circle cx="862" cy="624" r="1.8" fill="none" stroke="#48506a" stroke-width="0.5"/>
<circle cx="872" cy="624" r="1.8" fill="none" stroke="#48506a" stroke-width="0.5"/>
<circle cx="907" cy="624" r="1.8" fill="none" stroke="#48506a" stroke-width="0.5"/>
<circle cx="917" cy="624" r="1.8" fill="none" stroke="#48506a" stroke-width="0.5"/>
<circle cx="868" cy="640" r="1.8" fill="none" stroke="#48506a" stroke-width="0.5"/>
<circle cx="911" cy="640" r="1.8" fill="none" stroke="#48506a" stroke-width="0.5"/>
<path d="M861.2,659 a1.8,2.6 0 1 0 3.6,0 a1.8,2.6 0 1 0 -3.6,0 z" fill="none" stroke="#48506a" stroke-width="0.5" />
<path d="M866.2,657 a1.8,2.6 0 1 0 3.6,0 a1.8,2.6 0 1 0 -3.6,0 z" fill="none" stroke="#48506a" stroke-width="0.5" />
<path d="M909.2,657 a1.8,2.6 0 1 0 3.6,0 a1.8,2.6 0 1 0 -3.6,0 z" fill="none" stroke="#48506a" stroke-width="0.5" />
<path d="M914.2,659 a1.8,2.6 0 1 0 3.6,0 a1.8,2.6 0 1 0 -3.6,0 z" fill="none" stroke="#48506a" stroke-width="0.5" />
<path d="M870.2,675 a1.8,2.6 0 1 0 3.6,0 a1.8,2.6 0 1 0 -3.6,0 z" fill="none" stroke="#48506a" stroke-width="0.5" />
<path d="M905.2,675 a1.8,2.6 0 1 0 3.6,0 a1.8,2.6 0 1 0 -3.6,0 z" fill="none" stroke="#48506a" stroke-width="0.5" />
<path d="M868.2,685 a1.8,2.6 0 1 0 3.6,0 a1.8,2.6 0 1 0 -3.6,0 z" fill="none" stroke="#48506a" stroke-width="0.5" />
<path d="M907.2,685 a1.8,2.6 0 1 0 3.6,0 a1.8,2.6 0 1 0 -3.6,0 z" fill="none" stroke="#48506a" stroke-width="0.5" />
<path d="M862,650 h7 v6 h-7 z M910,650 h7 v6 h-7 z" fill="none" stroke="#48506a" stroke-width="0.5" />
<path d="M889.5,690 V742" fill="none" stroke="#555" stroke-width="1.3" />
<path d="M888.5,700 h2 M888.5,710 h2 M888.5,720 h2 M888.5,730 h2" fill="none" stroke="#fff" stroke-width="0.8" />
<circle cx="889.5" cy="741" r="1.5" fill="#d8a030"/>
<path d="M870,735.7 l5.6,-3.6 l5.6,3.6 l-5.6,3.6 z M897.9,735.7 l5.6,-3.6 l5.6,3.6 l-5.6,3.6 z" fill="#151515" stroke="none" stroke-width="1" />
<path d="M861.2,742.3 H886.8000000000001 L884.8000000000001,766.8 H863.2 Z" fill="#e8e8e8" stroke="#555" stroke-width="0.4" />
<path d="M861.2,742.3 H886.8000000000001 V748 H861.2 Z" fill="#f4f4f4" stroke="#555" stroke-width="0.3" />
<path d="M862.1,742.8 v4.8 M863.7,742.8 v4.8 M865.3,742.8 v4.8 M866.9,742.8 v4.8 M868.5,742.8 v4.8 M870.1,742.8 v4.8 M871.7,742.8 v4.8 M873.3,742.8 v4.8 M874.9,742.8 v4.8 M876.5,742.8 v4.8 M878.1,742.8 v4.8 M879.7,742.8 v4.8 M881.3,742.8 v4.8 M882.9,742.8 v4.8 M884.5,742.8 v4.8 M886.1,742.8 v4.8" fill="none" stroke="#555" stroke-width="0.55" />
<path d="M862.7,748.5 L864.7,766.8 M885.2,748.5 L883.2,766.8" fill="none" stroke="#4a4646" stroke-width="2.2" />
<path d="M868.2,748.5 L869.2,766.8 M879.7,748.5 L878.7,766.8" fill="none" stroke="#7d7674" stroke-width="1.6" />
<path d="M874.0,748.5 V766.8" fill="none" stroke="#9a9290" stroke-width="1.0" />
<path d="M892.3,742.3 H917.9 L915.9,766.8 H894.3 Z" fill="#e8e8e8" stroke="#555" stroke-width="0.4" />
<path d="M892.3,742.3 H917.9 V748 H892.3 Z" fill="#f4f4f4" stroke="#555" stroke-width="0.3" />
<path d="M893.2,742.8 v4.8 M894.8,742.8 v4.8 M896.4,742.8 v4.8 M898.0,742.8 v4.8 M899.6,742.8 v4.8 M901.2,742.8 v4.8 M902.8,742.8 v4.8 M904.4,742.8 v4.8 M906.0,742.8 v4.8 M907.6,742.8 v4.8 M909.2,742.8 v4.8 M910.8,742.8 v4.8 M912.4,742.8 v4.8 M914.0,742.8 v4.8 M915.6,742.8 v4.8 M917.2,742.8 v4.8" fill="none" stroke="#555" stroke-width="0.55" />
<path d="M893.8,748.5 L895.8,766.8 M916.3,748.5 L914.3,766.8" fill="none" stroke="#4a4646" stroke-width="2.2" />
<path d="M899.3,748.5 L900.3,766.8 M910.8,748.5 L909.8,766.8" fill="none" stroke="#7d7674" stroke-width="1.6" />
<path d="M905.0999999999999,748.5 V766.8" fill="none" stroke="#9a9290" stroke-width="1.0" />
<path d="M886.8,742.3 h5.5 v24.5 h-5.5 z" fill="#d9ddec" stroke="none" stroke-width="1" />
<path d="M888.6,750 h1.8 v12 h-1.8 z" fill="#7a7f8e" stroke="none" stroke-width="1" />
<ellipse cx="889.5" cy="765.5" rx="1.8" ry="1.4" fill="#555"/>
<path d="M861.2,742.3 H917.9 V748.5 H861.2 Z" fill="#f2f2f2" stroke="#555" stroke-width="0.3" />
<path d="M861.7,742.8 v5.2 M863.3,742.8 v5.2 M864.9,742.8 v5.2 M866.5,742.8 v5.2 M868.1,742.8 v5.2 M869.7,742.8 v5.2 M871.3,742.8 v5.2 M872.9,742.8 v5.2 M874.5,742.8 v5.2 M876.1,742.8 v5.2 M877.7,742.8 v5.2 M879.3,742.8 v5.2 M880.9,742.8 v5.2 M882.5,742.8 v5.2 M884.1,742.8 v5.2 M885.7,742.8 v5.2 M887.3,742.8 v5.2 M888.9,742.8 v5.2 M890.5,742.8 v5.2 M892.1,742.8 v5.2 M893.7,742.8 v5.2 M895.3,742.8 v5.2 M896.9,742.8 v5.2 M898.5,742.8 v5.2 M900.1,742.8 v5.2 M901.7,742.8 v5.2 M903.3,742.8 v5.2 M904.9,742.8 v5.2 M906.5,742.8 v5.2 M908.1,742.8 v5.2 M909.7,742.8 v5.2 M911.3,742.8 v5.2 M912.9,742.8 v5.2 M914.5,742.8 v5.2 M916.1,742.8 v5.2 M917.7,742.8 v5.2" fill="none" stroke="#666" stroke-width="0.55" />
<text x="946.5" y="293.5" font-size="3.2" fill="#333" textLength="22" lengthAdjust="spacingAndGlyphs">DO NOT PAINT</text>
<text transform="translate(957.5,305) rotate(90)" font-size="3.2" fill="#333" textLength="24" lengthAdjust="spacingAndGlyphs">DO NOT PAINT</text>
<g transform="">
<path d="M485,308.1 C500,307.6 530,307.6 543.4,308.6 V319.2 C530,320.2 500,320.2 485,319.8 Z" fill="#6e7c2a" stroke="#3f4a20" stroke-width="0.5" />
<path d="M485,308.1 H477 C472,308.3 470.5,311 470.5,314 C470.5,317 472,319.8 477,319.8 H485 Z" fill="#a9c3e0" stroke="#4d5870" stroke-width="0.5" />
<path d="M471.5,311 C471,313 471,315 471.5,317" fill="none" stroke="#222" stroke-width="1.4" />
<path d="M476.5,309 v10 M478.5,309 v10" fill="none" stroke="#4a5470" stroke-width="0.7" />
<path d="M543.4,309.8 H559.2 V318.6 H543.4 Z" fill="#a9c3e0" stroke="#4d5870" stroke-width="0.5" />
<path d="M547.5,309.8 v8.8 M551,309.8 v8.8" fill="none" stroke="#4d5870" stroke-width="0.5" />
<path d="M561,310.5 L565.5,304 H573.5 V310.5 Z M561,317.5 L565.5,324 H573.5 V317.5 Z" fill="#a9c3e0" stroke="#4d5870" stroke-width="0.5" />
<path d="M559.2,310.5 H577 V317.5 H559.2 Z" fill="#a9c3e0" stroke="#4d5870" stroke-width="0.5" />
<path d="M577,311 h1.8 v6 h-1.8 z" fill="#333" stroke="none" stroke-width="1" />
<path d="M563,314 h10" fill="none" stroke="#444" stroke-width="1" />
<path d="M499,316 l3,-5 h6 l-2,5 M510,311 h7 v5 h-7 z M520,311 h7 l-2,5" fill="none" stroke="#b4ad4a" stroke-width="0.7" opacity="0.8"/>
</g>
<g transform="matrix(-1,0,0,1,1176.6,0)">
<path d="M485,308.1 C500,307.6 530,307.6 543.4,308.6 V319.2 C530,320.2 500,320.2 485,319.8 Z" fill="#6e7c2a" stroke="#3f4a20" stroke-width="0.5" />
<path d="M485,308.1 H477 C472,308.3 470.5,311 470.5,314 C470.5,317 472,319.8 477,319.8 H485 Z" fill="#a9c3e0" stroke="#4d5870" stroke-width="0.5" />
<path d="M471.5,311 C471,313 471,315 471.5,317" fill="none" stroke="#222" stroke-width="1.4" />
<path d="M476.5,309 v10 M478.5,309 v10" fill="none" stroke="#4a5470" stroke-width="0.7" />
<path d="M543.4,309.8 H559.2 V318.6 H543.4 Z" fill="#a9c3e0" stroke="#4d5870" stroke-width="0.5" />
<path d="M547.5,309.8 v8.8 M551,309.8 v8.8" fill="none" stroke="#4d5870" stroke-width="0.5" />
<path d="M561,310.5 L565.5,304 H573.5 V310.5 Z M561,317.5 L565.5,324 H573.5 V317.5 Z" fill="#a9c3e0" stroke="#4d5870" stroke-width="0.5" />
<path d="M559.2,310.5 H577 V317.5 H559.2 Z" fill="#a9c3e0" stroke="#4d5870" stroke-width="0.5" />
<path d="M577,311 h1.8 v6 h-1.8 z" fill="#333" stroke="none" stroke-width="1" />
<path d="M563,314 h10" fill="none" stroke="#444" stroke-width="1" />
<path d="M499,316 l3,-5 h6 l-2,5 M510,311 h7 v5 h-7 z M520,311 h7 l-2,5" fill="none" stroke="#b4ad4a" stroke-width="0.7" opacity="0.8"/>
</g>
<path d="M502,459.7 C510,456 518,455 525,455 V464.2 C518,464.2 510,463.4 502,459.7 Z" fill="#f6f6f6" stroke="#4d5870" stroke-width="0.5" />
<path d="M525,455 H669.7 V464.2 H525 Z" fill="#a9c3e0" stroke="#4d5870" stroke-width="0.6" />
<path d="M544.5,455 v9.2 M577,455 v9.2" fill="none" stroke="#3e3e3e" stroke-width="0.8" />
<path d="M529,457 h8 v4 h-8 z" fill="none" stroke="#56627d" stroke-width="0.5" />
<path d="M578,455 h3.5 v9.2 h-3.5 z" fill="#e8a83c" stroke="none" stroke-width="1" />
<path d="M580,455 L593,448.7 H595.5 V470.7 H593 L580,464.2 Z" fill="#c4cbd6" stroke="#4d5870" stroke-width="0.5" />
<path d="M653,455 L661,446 H669.7 V473.4 H661 L653,464.2 Z" fill="#c4cbd6" stroke="#4d5870" stroke-width="0.5" />
<path d="M585,457.5 H668 M585,461.5 H668" fill="none" stroke="#3b4a66" stroke-width="0.7" stroke-dasharray="2,1"/>
<path d="M606.5,455 v9.2 M644,455 v9.2" fill="none" stroke="#6a4a3a" stroke-width="1" />
<path d="M560,457 h4 v4 h-4 z M625,459 h8" fill="none" stroke="#56627d" stroke-width="0.5" />
<path d="M545,603 H659 V609.8 H545 Z" fill="#a9c3e0" stroke="#4d5870" stroke-width="0.6" />
<path d="M519.5,606.4 C522,603.5 530,602.8 545,602.8 V609.8 C530,609.8 522,609.2 519.5,606.4 Z" fill="#1e1f24" stroke="none" stroke-width="1" />
<path d="M533,606 L545,599 V613.5 Z" fill="#1e1f24" stroke="none" stroke-width="1" />
<path d="M548,605 l3,2 l-3,0 z" fill="#ddd" stroke="none" stroke-width="1" />
<path d="M569,603 h3 v6.8 h-3 z" fill="#e8a83c" stroke="none" stroke-width="1" />
<path d="M578,603 h2 v6.8 h-2 z M617,603 h2.5 v6.8 h-2.5 z" fill="#8a4a3a" stroke="none" stroke-width="1" />
<path d="M585,603 v6.8 M603,603 v6.8 M607,603 v6.8 M634,603 v6.8 M637,603 v6.8" fill="none" stroke="#4d5870" stroke-width="0.6" />
<path d="M646,606 L652,597 H656 L659,606 L656,615.7 H652 Z" fill="#8e939c" stroke="#555" stroke-width="0.5" />
<path d="M650,605 h9" fill="none" stroke="#333" stroke-width="1.5" />
<path d="M560,604.5 h6" fill="none" stroke="#333" stroke-width="0.8" />
<line x1="472.4" y1="342" x2="479" y2="318" stroke="#6f93d8" stroke-width="0.8"/>
<line x1="535.4" y1="342" x2="535.4" y2="320.5" stroke="#6f93d8" stroke-width="0.8"/>
<line x1="588" y1="342" x2="572" y2="322" stroke="#6f93d8" stroke-width="0.8"/>
<line x1="588.5" y1="342" x2="604.6" y2="322" stroke="#6f93d8" stroke-width="0.8"/>
<line x1="663.6" y1="342" x2="663.6" y2="320.5" stroke="#6f93d8" stroke-width="0.8"/>
<line x1="706.4" y1="342" x2="698" y2="318" stroke="#6f93d8" stroke-width="0.8"/>
<line x1="523" y1="486" x2="521" y2="462" stroke="#6f93d8" stroke-width="0.8"/>
<line x1="566" y1="486" x2="563" y2="461" stroke="#6f93d8" stroke-width="0.8"/>
<line x1="625.5" y1="486" x2="595" y2="470" stroke="#6f93d8" stroke-width="0.8"/>
<line x1="625.5" y1="486" x2="656" y2="468" stroke="#6f93d8" stroke-width="0.8"/>
<line x1="592" y1="580" x2="604" y2="603" stroke="#6f93d8" stroke-width="0.8"/>
<line x1="587" y1="628" x2="545" y2="612" stroke="#6f93d8" stroke-width="0.8"/>
<line x1="604" y1="628" x2="650" y2="612" stroke="#6f93d8" stroke-width="0.8"/>
<polygon points="463.4,342.0 481.4,342.0 472.4,355.6" fill="#111"/>
<text x="469.6" y="351.4" font-size="11.6" font-weight="bold" fill="#fff" textLength="5.6" lengthAdjust="spacingAndGlyphs">6</text>
<polygon points="526.4,341.5 544.4,341.5 535.4,355.1" fill="#111"/>
<text x="532.1" y="350.9" font-size="11.6" font-weight="bold" fill="#fff" textLength="6.6" lengthAdjust="spacingAndGlyphs">13</text>
<polygon points="579.0,342.0 597.0,342.0 588.0,355.6" fill="#111"/>
<text x="585.2" y="351.4" font-size="11.6" font-weight="bold" fill="#fff" textLength="5.6" lengthAdjust="spacingAndGlyphs">6</text>
<polygon points="654.6,341.5 672.6,341.5 663.6,355.1" fill="#111"/>
<text x="660.3" y="350.9" font-size="11.6" font-weight="bold" fill="#fff" textLength="6.6" lengthAdjust="spacingAndGlyphs">13</text>
<polygon points="697.4,342.0 715.4,342.0 706.4,355.6" fill="#111"/>
<text x="703.6" y="351.4" font-size="11.6" font-weight="bold" fill="#fff" textLength="5.6" lengthAdjust="spacingAndGlyphs">6</text>
<polygon points="514.2,486.0 531.8,486.0 523.0,500.5" fill="#111"/>
<text x="520.2" y="495.4" font-size="11.6" font-weight="bold" fill="#fff" textLength="5.6" lengthAdjust="spacingAndGlyphs">3</text>
<polygon points="557.2,486.0 574.8,486.0 566.0,500.5" fill="#111"/>
<text x="563.2" y="495.4" font-size="11.6" font-weight="bold" fill="#fff" textLength="5.6" lengthAdjust="spacingAndGlyphs">6</text>
<polygon points="617.0,486.0 634.5,486.0 625.8,500.5" fill="#111"/>
<text x="622.5" y="495.4" font-size="11.6" font-weight="bold" fill="#fff" textLength="6.6" lengthAdjust="spacingAndGlyphs">10</text>
<polygon points="579.5,570.0 597.5,570.0 588.5,583.5" fill="#111"/>
<text x="585.7" y="579.4" font-size="11.6" font-weight="bold" fill="#fff" textLength="5.6" lengthAdjust="spacingAndGlyphs">6</text>
<polygon points="587.0,624.8 605.0,624.8 596.0,637.8" fill="#111"/>
<text x="592.7" y="634.2" font-size="11.6" font-weight="bold" fill="#fff" textLength="6.6" lengthAdjust="spacingAndGlyphs">10</text>
<line x1="542" y1="278.5" x2="510" y2="313" stroke="#e65a3c" stroke-width="0.8"/>
<line x1="658" y1="287" x2="626" y2="314" stroke="#e65a3c" stroke-width="0.8"/>
<line x1="538" y1="417" x2="536" y2="456" stroke="#e65a3c" stroke-width="0.8"/>
<line x1="589" y1="417" x2="577" y2="458" stroke="#e65a3c" stroke-width="0.8"/>
<line x1="637" y1="417" x2="637" y2="455" stroke="#e65a3c" stroke-width="0.8"/>
<line x1="553" y1="570" x2="571" y2="603" stroke="#e65a3c" stroke-width="0.8"/>
<line x1="625" y1="570" x2="618" y2="609" stroke="#e65a3c" stroke-width="0.8"/>
<text x="528.6" y="274.75" font-size="12.57" fill="#1a1a1a" textLength="41.4" lengthAdjust="spacingAndGlyphs">w7+w8</text>
<text x="654.6" y="283.75" font-size="10.76" fill="#1a1a1a" textLength="16.9" lengthAdjust="spacingAndGlyphs">w6</text>
<text x="527.7" y="413.8" font-size="12.64" fill="#1a1a1a" textLength="16.3" lengthAdjust="spacingAndGlyphs">w5</text>
<text x="578" y="413.8" font-size="12.64" fill="#1a1a1a" textLength="16.6" lengthAdjust="spacingAndGlyphs">w3</text>
<text x="628.5" y="413.8" font-size="12.64" fill="#1a1a1a" textLength="16.5" lengthAdjust="spacingAndGlyphs">w4</text>
<text x="541" y="565.5" font-size="11.81" fill="#1a1a1a" textLength="16.8" lengthAdjust="spacingAndGlyphs">w2</text>
<text x="615.5" y="565.5" font-size="11.81" fill="#1a1a1a" textLength="14.2" lengthAdjust="spacingAndGlyphs">w1</text>
<g fill="#262626" stroke="#262626" stroke-width="0.15">
<text x="53.4" y="120.6" font-size="9.43" textLength="12.2" lengthAdjust="spacingAndGlyphs">s21</text>
<text x="97.4" y="112.1" font-size="9.71" textLength="13.1" lengthAdjust="spacingAndGlyphs">s57</text>
<text x="81.5" y="208.6" font-size="9.43" textLength="12.2" lengthAdjust="spacingAndGlyphs">s19</text>
<text x="270.6" y="88.7" font-size="9.57" textLength="13.1" lengthAdjust="spacingAndGlyphs">s14</text>
<text x="319.0" y="100.9" font-size="9.43" textLength="12.4" lengthAdjust="spacingAndGlyphs">s19</text>
<text x="345.5" y="79.4" font-size="9.43" textLength="14.0" lengthAdjust="spacingAndGlyphs">s59</text>
<text x="375.4" y="87.8" font-size="9.43" textLength="12.2" lengthAdjust="spacingAndGlyphs">s14</text>
<text x="253.7" y="220.7" font-size="9.29" textLength="13.1" lengthAdjust="spacingAndGlyphs">s27</text>
<text x="225.6" y="225.2" font-size="9.71" textLength="13.1" lengthAdjust="spacingAndGlyphs">s35</text>
<text x="398.8" y="222.6" font-size="9.43" textLength="12.2" lengthAdjust="spacingAndGlyphs">s59</text>
<text x="417.9" y="87.9" font-size="9.71" textLength="13.9" lengthAdjust="spacingAndGlyphs">s58</text>
<text x="535.3" y="119.7" font-size="9.71" textLength="9.0" lengthAdjust="spacingAndGlyphs">s5</text>
<text x="432.8" y="225.0" font-size="10.00" textLength="13.0" lengthAdjust="spacingAndGlyphs">s25</text>
<text x="516.4" y="218.2" font-size="9.71" textLength="13.0" lengthAdjust="spacingAndGlyphs">s55</text>
<text x="635.7" y="132.6" font-size="9.71" textLength="8.0" lengthAdjust="spacingAndGlyphs">s5</text>
<text x="746.2" y="93.8" font-size="9.71" textLength="12.9" lengthAdjust="spacingAndGlyphs">s58</text>
<text x="733.2" y="215.2" font-size="9.71" textLength="13.0" lengthAdjust="spacingAndGlyphs">s25</text>
<text x="786.2" y="95.3" font-size="9.43" textLength="12.2" lengthAdjust="spacingAndGlyphs">s14</text>
<text x="803.0" y="104.6" font-size="9.43" textLength="13.2" lengthAdjust="spacingAndGlyphs">s59</text>
<text x="832.0" y="99.0" font-size="9.29" textLength="12.3" lengthAdjust="spacingAndGlyphs">s19</text>
<text x="879.9" y="97.2" font-size="9.43" textLength="13.1" lengthAdjust="spacingAndGlyphs">s14</text>
<text x="910.7" y="211.4" font-size="9.71" textLength="13.2" lengthAdjust="spacingAndGlyphs">s27</text>
<text x="769.4" y="220.7" font-size="9.71" textLength="13.1" lengthAdjust="spacingAndGlyphs">s59</text>
<text x="1024.6" y="87.8" font-size="9.43" textLength="11.2" lengthAdjust="spacingAndGlyphs">s18</text>
<text x="1053.6" y="100.0" font-size="9.43" textLength="12.2" lengthAdjust="spacingAndGlyphs">s52</text>
<text x="1085.5" y="112.1" font-size="9.29" textLength="12.1" lengthAdjust="spacingAndGlyphs">s22</text>
<text x="1120.0" y="119.6" font-size="9.43" textLength="13.2" lengthAdjust="spacingAndGlyphs">s20</text>
<text x="1089.2" y="209.5" font-size="9.71" textLength="13.1" lengthAdjust="spacingAndGlyphs">s57</text>
<text x="1059.3" y="216.0" font-size="9.29" textLength="13.1" lengthAdjust="spacingAndGlyphs">s19</text>
<text x="1033.0" y="227.3" font-size="9.71" textLength="13.0" lengthAdjust="spacingAndGlyphs">s52</text>
<text x="993.7" y="226.4" font-size="9.71" textLength="13.1" lengthAdjust="spacingAndGlyphs">s34</text>
<text x="323.8" y="332.2" font-size="11.00" textLength="9.0" lengthAdjust="spacingAndGlyphs">s6</text>
<text x="190.1" y="365.6" font-size="11.14" textLength="12.2" lengthAdjust="spacingAndGlyphs">s15</text>
<text x="340.5" y="354.1" font-size="11.00" textLength="12.9" lengthAdjust="spacingAndGlyphs">s16</text>
<text x="182.3" y="402.3" font-size="11.14" textLength="12.3" lengthAdjust="spacingAndGlyphs">s13</text>
<text x="371.4" y="397.9" font-size="11.00" textLength="12.9" lengthAdjust="spacingAndGlyphs">s13</text>
<text x="149.0" y="419.0" font-size="11.14" textLength="8.9" lengthAdjust="spacingAndGlyphs">s6</text>
<text x="414.0" y="400.5" font-size="11.14" textLength="9.0" lengthAdjust="spacingAndGlyphs">s6</text>
<text x="181.2" y="446.8" font-size="11.14" textLength="10.0" lengthAdjust="spacingAndGlyphs">s3</text>
<text x="383.0" y="454.6" font-size="11.14" textLength="7.8" lengthAdjust="spacingAndGlyphs">s1</text>
<text x="189.0" y="470.1" font-size="11.14" textLength="10.0" lengthAdjust="spacingAndGlyphs">s6</text>
<text x="372.7" y="481.6" font-size="11.00" textLength="9.1" lengthAdjust="spacingAndGlyphs">s6</text>
<text x="116.7" y="457.9" font-size="11.14" textLength="13.3" lengthAdjust="spacingAndGlyphs">s10</text>
<text x="438.4" y="472.6" font-size="11.00" textLength="12.9" lengthAdjust="spacingAndGlyphs">s10</text>
<text x="77.8" y="463.5" font-size="11.14" textLength="13.3" lengthAdjust="spacingAndGlyphs">s36</text>
<text x="443.0" y="500.6" font-size="11.00" textLength="13.0" lengthAdjust="spacingAndGlyphs">s36</text>
<text x="124.4" y="500.6" font-size="11.00" textLength="10.3" lengthAdjust="spacingAndGlyphs">s6</text>
<text x="87.0" y="522.5" font-size="11.00" textLength="9.1" lengthAdjust="spacingAndGlyphs">s6</text>
<text x="417.3" y="509.6" font-size="11.00" textLength="9.0" lengthAdjust="spacingAndGlyphs">s6</text>
<text x="471.4" y="509.6" font-size="11.00" textLength="9.0" lengthAdjust="spacingAndGlyphs">s6</text>
<text x="115.4" y="681.0" font-size="11.00" textLength="9.0" lengthAdjust="spacingAndGlyphs">s6</text>
<text x="174.7" y="699.0" font-size="11.00" textLength="11.6" lengthAdjust="spacingAndGlyphs">s11</text>
<text x="200.5" y="673.3" font-size="11.00" textLength="9.0" lengthAdjust="spacingAndGlyphs">s6</text>
<text x="219.8" y="672.0" font-size="11.00" textLength="14.2" lengthAdjust="spacingAndGlyphs">s32</text>
<text x="200.5" y="686.2" font-size="11.00" textLength="12.9" lengthAdjust="spacingAndGlyphs">s12</text>
<text x="372.2" y="670.7" font-size="11.00" textLength="9.0" lengthAdjust="spacingAndGlyphs">s6</text>
<text x="386.3" y="682.3" font-size="11.00" textLength="10.3" lengthAdjust="spacingAndGlyphs">s11</text>
<text x="446.9" y="681.0" font-size="11.00" textLength="9.0" lengthAdjust="spacingAndGlyphs">s6</text>
<text x="356.7" y="686.2" font-size="11.00" textLength="11.6" lengthAdjust="spacingAndGlyphs">s12</text>
<text x="378.6" y="700.3" font-size="11.00" textLength="10.3" lengthAdjust="spacingAndGlyphs">s9</text>
<text x="170.8" y="718.0" font-size="10.86" textLength="8.7" lengthAdjust="spacingAndGlyphs">s7</text>
<text x="399.4" y="718.0" font-size="10.86" textLength="8.7" lengthAdjust="spacingAndGlyphs">s8</text>
<text x="246.7" y="797.0" font-size="10.71" textLength="8.6" lengthAdjust="spacingAndGlyphs">s6</text>
<text x="280.3" y="797.0" font-size="10.71" textLength="11.9" lengthAdjust="spacingAndGlyphs">s41</text>
<text x="315.0" y="797.0" font-size="10.71" textLength="8.6" lengthAdjust="spacingAndGlyphs">s6</text>
<text x="836.0" y="310.7" font-size="11.14" textLength="13.3" lengthAdjust="spacingAndGlyphs">s42</text>
<text x="940.0" y="308.0" font-size="11.14" textLength="14.7" lengthAdjust="spacingAndGlyphs">s50</text>
<text x="942.7" y="366.7" font-size="11.14" textLength="14.6" lengthAdjust="spacingAndGlyphs">s43</text>
<text x="797.3" y="385.3" font-size="11.14" textLength="12.0" lengthAdjust="spacingAndGlyphs">s51</text>
<text x="957.3" y="402.7" font-size="11.14" textLength="13.4" lengthAdjust="spacingAndGlyphs">s53</text>
<text x="769.3" y="434.7" font-size="11.14" textLength="13.4" lengthAdjust="spacingAndGlyphs">s44</text>
<text x="993.1" y="436.4" font-size="11.14" textLength="14.8" lengthAdjust="spacingAndGlyphs">s45</text>
<text x="1017.7" y="465.9" font-size="11.14" textLength="14.8" lengthAdjust="spacingAndGlyphs">s46</text>
<text x="786.7" y="464.0" font-size="11.14" textLength="12.0" lengthAdjust="spacingAndGlyphs">s54</text>
<text x="776.6" y="489.0" font-size="11.14" textLength="14.2" lengthAdjust="spacingAndGlyphs">s48</text>
<text x="745.7" y="498.0" font-size="11.14" textLength="12.9" lengthAdjust="spacingAndGlyphs">s52</text>
<text x="1047.2" y="518.4" font-size="11.14" textLength="13.1" lengthAdjust="spacingAndGlyphs">s52</text>
<text x="999.7" y="529.8" font-size="11.14" textLength="14.7" lengthAdjust="spacingAndGlyphs">s48</text>
<text x="698.0" y="541.8" font-size="11.14" textLength="7.8" lengthAdjust="spacingAndGlyphs">s2</text>
<text x="739.2" y="531.5" font-size="11.14" textLength="11.6" lengthAdjust="spacingAndGlyphs">s51</text>
<text x="1062.0" y="539.7" font-size="11.14" textLength="9.8" lengthAdjust="spacingAndGlyphs">s4</text>
<text x="771.4" y="669.3" font-size="11.14" textLength="12.9" lengthAdjust="spacingAndGlyphs">s47</text>
<text x="1006.2" y="680.7" font-size="11.14" textLength="11.5" lengthAdjust="spacingAndGlyphs">s51</text>
<text x="958.7" y="688.9" font-size="11.14" textLength="14.7" lengthAdjust="spacingAndGlyphs">s49</text>
<text x="884.5" y="796.8" font-size="11.14" textLength="12.3" lengthAdjust="spacingAndGlyphs">s41</text>
</g>
<path d="M64.6,123.4 L84.3,151.5 M64.6,123.4 L86.2,173 M104,114 L103.7,157.5 M90,199.2 L116,184.2 M277,90.6 L281.8,135.5 M327.7,103.7 L364.2,127.1 M353.9,81.2 L387.6,158 M382,89.7 L397.9,141.2 M264,211.4 L288.4,176.7 M227.5,216.2 L192.5,187.5 M404.5,214.2 L390.4,165.5 M428.9,89.9 L481.6,114.7 M428.9,89.9 L457.7,156.5 M533.3,119.7 L507.5,126.7 M440.8,215.2 L446.8,186.4 M525.4,208.3 L529.4,179.4 M647.7,128.7 L673.5,126.7 M748.2,95.8 L699.4,115.7 M748.2,95.8 L721.3,157.5 M738.2,205.3 L731.2,184.4 M792.8,98.1 L780.6,143 M809.6,106.5 L792.8,158 M836.8,100.9 L816.2,127.1 M887.3,100 L897.6,135.5 M916.4,201 L897.6,177.7 M777.8,210.4 L788,163.6 M1029.3,90.6 L1031.2,154.3 M1057.4,103.7 L1040.5,161.8 M1086.4,115 L1057.4,153.3 M1121,122.4 L1094.8,150.5 M1121,122.4 L1093,172 M1093,199.2 L1077,158 M1064.9,206.7 L1060.2,180.5 M1037.7,217 L1031.2,186.1 M1000.3,217 L1002.1,191.7 M321.2,328.3 L296.7,323.2 M207.9,363.4 L261.3,402.3 M347,355.4 L305.8,408.2 M197.9,403.4 L248,434.5 M370.2,397.9 L322.5,434 M159,415.6 L240.2,444.5 M410,397.9 L327.7,444.3 M192.3,444.5 L240.2,476.8 M380.5,452 L327.7,475.2 M200.1,467.9 L237.9,477.9 M200.1,467.9 L251.3,515.7 M368.9,479 L331.5,477.7 M368.9,479 L320,515 M126.7,460.1 L219.8,523.8 M442.3,473.9 L350.3,522.5 M84.5,464.6 L137.3,578 M446.9,503.2 L430.2,576.6 M129.6,505.8 L214.6,527.7 M129.6,505.8 L178.6,545.7 M129.6,505.8 L146.3,565 M92.2,523.8 L94.8,585.7 M92.2,523.8 L134.7,575.4 M418.6,512.2 L356.7,527.7 M418.6,512.2 L390.2,544.4 M418.6,512.2 L421.1,562.5 M474,512.2 L440.5,567.6 M474,512.2 L474,583 M119.3,668.1 L105.1,630.8 M119.3,668.1 L128.3,615.3 M119.3,668.1 L141.2,625.6 M206.9,659.1 L196.6,620.5 M206.9,659.1 L219.8,639.8 M234.6,659.7 L284.8,512.8 M234.6,659.7 L284.8,543.8 M216.3,681.2 L264,675.8 M354.1,679.7 L303.9,675.9 M374.7,659.1 L349,638.5 M374.7,659.1 L372.2,620.5 M450.8,669.4 L430.2,626.9 M450.8,669.4 L440.5,615.3 M450.8,669.4 L462.4,630.8 M376.7,696.8 L287.8,696.8 M181.7,714.8 L231.5,721.3 M395.1,715.8 L336.6,721.3 M245.6,789.5 L189.3,744 M245.6,789.5 L212,780.8 M285.7,785.2 L270.5,737.5 M285.7,785.2 L298.7,737.5 M326.8,789.5 L378.8,745.1 M326.8,789.5 L356.1,780.8 M850.7,309.3 L882.7,328 M936,305.3 L893.3,302.7 M936,305.3 L893.3,312 M938.7,361.3 L901.3,350.7 M813.3,384 L888,464 M960,404 L921.3,440 M785.3,430.7 L885.3,469.3 M798.7,464 L890.6,538 M790.8,489 L870.6,549.6 M790.8,489 L875.8,550.8 M758.6,500.6 L856.5,606.2 M991.5,434.8 L917.7,470.8 M1016,462.6 L927.5,495.4 M1045.6,518.4 L921,608.5 M996.4,526.6 L907.9,551.1 M996.4,526.6 L912.8,546.2 M1065.2,541.3 L1045.6,600.3 M703.2,544.4 L734.1,601 M749.6,534 L803.6,606.2 M786.9,661.6 L886,623 M1012.8,667.5 L975.1,606.9 M958.7,677.4 L916,633.1 M958.7,677.4 L883.3,638 M890.1,785.7 L874.5,739 M890.1,785.7 L904.6,739 M179.8,686.2 L178.6,633.4 L167,632 M392.8,670.7 L395.4,633.4 L405.7,632" fill="none" stroke="#e65a3c" stroke-width="1"/>
</svg></body></html>
